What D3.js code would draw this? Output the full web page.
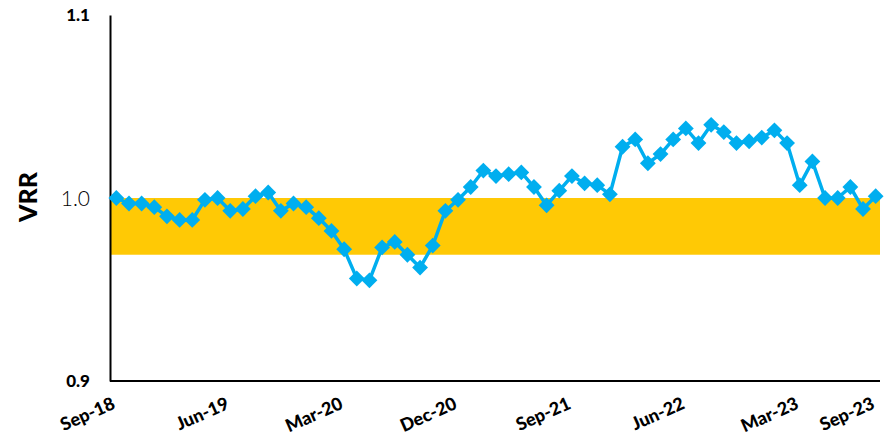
<!DOCTYPE html>
<html>
<head>
<meta charset="utf-8">
<script src="https://cdn.jsdelivr.net/npm/d3@7"></script>
<style>
  body { margin: 0; background: #fff; }
  text { font-family: Lato, "Open Sans", sans-serif; }
</style>
</head>
<body>
<div id="chart"></div>
<script>
// monthly VRR, Sep-18 .. Sep-23
var months = d3.timeMonth.range(new Date(2018, 8, 1), new Date(2023, 9, 1));
var vrr = [
  1.000, 0.997, 0.997, 0.995, 0.990, 0.988, 0.988, 0.999, 1.000, 0.993,
  0.994, 1.001, 1.003, 0.993, 0.997, 0.995, 0.989, 0.982, 0.972, 0.956,
  0.955, 0.973, 0.976, 0.969, 0.962, 0.974, 0.993, 0.999, 1.006, 1.015,
  1.012, 1.013, 1.014, 1.006, 0.996, 1.004, 1.012, 1.008, 1.007, 1.002,
  1.028, 1.032, 1.019, 1.024, 1.032, 1.038, 1.030, 1.040, 1.036, 1.030,
  1.031, 1.033, 1.037, 1.030, 1.007, 1.020, 1.000, 1.000, 1.006, 0.994,
  1.001
];
var tickLabels = ["Sep-18", "Jun-19", "Mar-20", "Dec-20", "Sep-21", "Jun-22", "Mar-23", "Sep-23"];
var yTicks = [0.9, 1.0, 1.1];
var band = [0.969, 1.0];

var fmt = d3.timeFormat("%b-%y");
var width = 894, height = 438;

var svg = d3.select("#chart").append("svg")
    .attr("width", width)
    .attr("height", height);

var x = d3.scaleBand()
    .domain(months.map(function(d) { return fmt(d); }))
    .range([110, 882]);

var y = d3.scaleLinear()
    .domain([0.9, 1.1])
    .range([381, 15]);

function cx(i) { return x(fmt(months[i])) + x.bandwidth() / 2; }

// target band
svg.append("rect")
    .attr("x", 110)
    .attr("y", y(band[1]))
    .attr("width", 880 - 110)
    .attr("height", y(band[0]) - y(band[1]))
    .attr("fill", "#FFC905");

// axes
var yAxis = svg.append("g")
    .attr("transform", "translate(110,0)")
    .call(d3.axisLeft(y).tickValues(yTicks).tickSize(0).tickPadding(20)
      .tickFormat(d3.format(".1f")));
yAxis.select(".domain").attr("stroke", "#000").attr("stroke-width", 2);
yAxis.selectAll("text")
    .attr("fill", "#000")
    .style("font-size", function(d) { return d === 1.0 ? "21px" : "17px"; })
    .style("font-weight", function(d) { return d === 1.0 ? 300 : 900; })
    .attr("dy", function(d) { return d === 1.0 ? "0.35em" : "0.3em"; });

var xAxis = svg.append("g")
    .attr("transform", "translate(0,381)")
    .call(d3.axisBottom(x).tickValues([]).tickSize(0).tickSizeOuter(0));
xAxis.select(".domain")
    .attr("d", "M110,0H880")
    .attr("stroke", "#000").attr("stroke-width", 2);

// rotated month labels
svg.append("g").selectAll("text")
    .data(tickLabels)
    .enter().append("text")
    .attr("text-anchor", "end")
    .attr("transform", function(d) { return "translate(" + (x(d) + x.bandwidth() / 2) + ",408) rotate(-24)"; })
    .style("font-size", "18px")
    .style("font-weight", 900)
    .text(function(d) { return d; });

// y title
svg.append("text")
    .attr("transform", "translate(37,197) rotate(-90)")
    .attr("text-anchor", "middle")
    .style("font-size", "25px")
    .style("font-weight", 900)
    .text("VRR");

// series
var line = d3.line()
    .x(function(d, i) { return cx(i); })
    .y(function(d) { return y(d); });

svg.append("path")
    .datum(vrr)
    .attr("d", line)
    .attr("fill", "none")
    .attr("stroke", "#00AEEF")
    .attr("stroke-width", 3.5);

svg.selectAll(".pt")
    .data(vrr)
    .enter().append("path")
    .attr("class", "pt")
    .attr("d", d3.symbol(d3.symbolSquare, 125))
    .attr("transform", function(d, i) { return "translate(" + cx(i) + "," + y(d) + ") rotate(45)"; })
    .attr("fill", "#00AEEF");
</script>
</body>
</html>
